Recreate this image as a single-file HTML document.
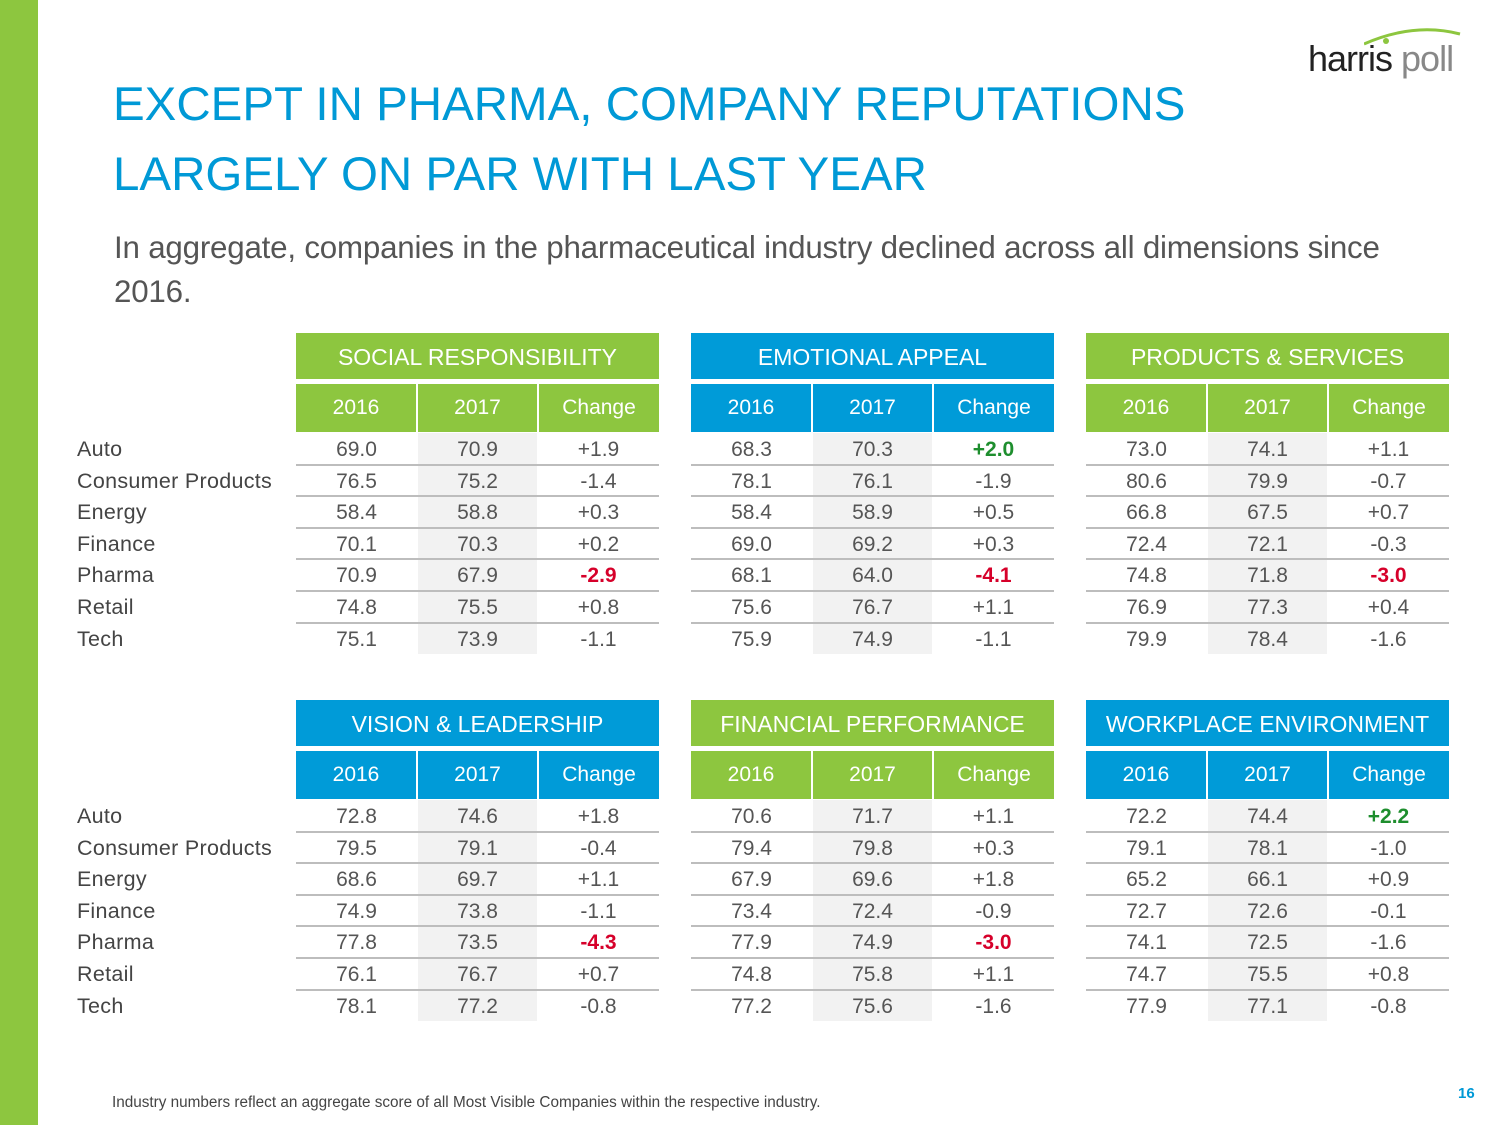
<!DOCTYPE html>
<html><head><meta charset="utf-8"><style>
body{margin:0;width:1500px;height:1125px;position:relative;background:#fff;font-family:"Liberation Sans",sans-serif;overflow:hidden}
.a{position:absolute}
.c{position:absolute;text-align:center;white-space:nowrap}
</style></head><body>
<div class="a" style="left:0;top:0;width:38px;height:1125px;background:#8DC63F"></div>
<div class="a" style="left:1308px;top:38px;font-size:36px;letter-spacing:-1px;color:#222">harris <span style="color:#888">poll</span>
<svg class="a" style="left:56px;top:-12px" width="100" height="24"><path d="M0 18 Q50 -4 96 8" stroke="#8DC63F" stroke-width="3" fill="none"/><circle cx="22" cy="15" r="3" fill="#8DC63F"/></svg></div>
<div class="a" style="left:113px;top:70px;font-size:47.5px;line-height:70px;color:#0099D6">EXCEPT IN PHARMA, COMPANY REPUTATIONS<br>LARGELY ON PAR WITH LAST YEAR</div>
<div class="a" style="left:114px;top:226px;width:1300px;font-size:31.3px;line-height:44px;color:#555;letter-spacing:-0.2px">In aggregate, companies in the pharmaceutical industry declined across all dimensions since 2016.</div>
<div class="a" style="left:112px;top:1094px;font-size:15.3px;color:#444">Industry numbers reflect an aggregate score of all Most Visible Companies within the respective industry.</div>
<div class="a" style="left:1458px;top:1085px;font-size:15px;font-weight:bold;color:#0099D6">16</div>
<div id="root"></div>
<script>
const industries=["Auto","Consumer Products","Energy","Finance","Pharma","Retail","Tech"];
const tableTitles=["SOCIAL RESPONSIBILITY","EMOTIONAL APPEAL","PRODUCTS & SERVICES","VISION & LEADERSHIP","FINANCIAL PERFORMANCE","WORKPLACE ENVIRONMENT"];
const tableColors=["#8DC63F","#009BD8","#8DC63F","#009BD8","#8DC63F","#009BD8"];
const v2016=[[69.0,76.5,58.4,70.1,70.9,74.8,75.1],[68.3,78.1,58.4,69.0,68.1,75.6,75.9],[73.0,80.6,66.8,72.4,74.8,76.9,79.9],[72.8,79.5,68.6,74.9,77.8,76.1,78.1],[70.6,79.4,67.9,73.4,77.9,74.8,77.2],[72.2,79.1,65.2,72.7,74.1,74.7,77.9]];
const v2017=[[70.9,75.2,58.8,70.3,67.9,75.5,73.9],[70.3,76.1,58.9,69.2,64.0,76.7,74.9],[74.1,79.9,67.5,72.1,71.8,77.3,78.4],[74.6,79.1,69.7,73.8,73.5,76.7,77.2],[71.7,79.8,69.6,72.4,74.9,75.8,75.6],[74.4,78.1,66.1,72.6,72.5,75.5,77.1]];
const changes=[["+1.9","-1.4","+0.3","+0.2","-2.9","+0.8","-1.1"],["+2.0","-1.9","+0.5","+0.3","-4.1","+1.1","-1.1"],["+1.1","-0.7","+0.7","-0.3","-3.0","+0.4","-1.6"],["+1.8","-0.4","+1.1","-1.1","-4.3","+0.7","-0.8"],["+1.1","+0.3","+1.8","-0.9","-3.0","+1.1","-1.6"],["+2.2","-1.0","+0.9","-0.1","-1.6","+0.8","-0.8"]];
const root=document.getElementById('root');
function mk(cls,css,txt){const d=document.createElement('div');d.className=cls;d.style.cssText=css;if(txt!=null)d.textContent=txt;root.appendChild(d);return d;}
const tx=[296,691,1086],ty=[333,700],W=363,cw=121,rh=31.6;
ty.forEach((y0,g)=>{
  const rowTop=y0+100;
  industries.forEach((n,r)=>{
    const e=mk('a',`left:77px;top:${rowTop+r*rh+4}px;font-size:21.5px;color:#444;letter-spacing:0.3px`,n);
    
    
  });
  tx.forEach((x0,k)=>{
    const t=g*3+k,col=tableColors[t];
    const h=mk('c',`left:${x0}px;top:${y0}px;width:${W}px;height:46px;line-height:48px;background:${col};color:#fff;font-size:23px`,tableTitles[t]);
    
    
    ["2016","2017","Change"].forEach((s,c)=>{
      const sh=mk('c',`left:${x0+c*cw+(c?1:0)}px;top:${y0+51}px;width:${cw-(c?1:0)-(c<2?1:0)}px;height:48px;line-height:48px;background:${col};color:#fff;font-size:21px`,s);
      
      
    });
    const bg=mk('a',`left:${x0+cw+1}px;top:${rowTop}px;width:${cw-2}px;height:${rh*7}px;background:#F2F2F2`);
    
    
    industries.forEach((n,r)=>{
      const y=rowTop+r*rh;
      const vals=[v2016[t][r].toFixed(1),v2017[t][r].toFixed(1),changes[t][r]];
      vals.forEach((s,c)=>{
        const d=parseFloat(s);let st='color:#555';
        if(c==2&&d<=-2.5)st='color:#D6002A;font-weight:bold';
        if(c==2&&d>=2)st='color:#1E8E2E;font-weight:bold';
        const e=mk('c',`left:${x0+c*cw}px;top:${y+5}px;width:${cw}px;font-size:21px;${st}`,s);
        
        
      });
      if(r<6){const l=mk('a',`left:${x0}px;top:${y+rh-1}px;width:${W}px;height:2px;background:#BDBDBD`);
        
        }
    });
  });
});
</script>
</body></html>
